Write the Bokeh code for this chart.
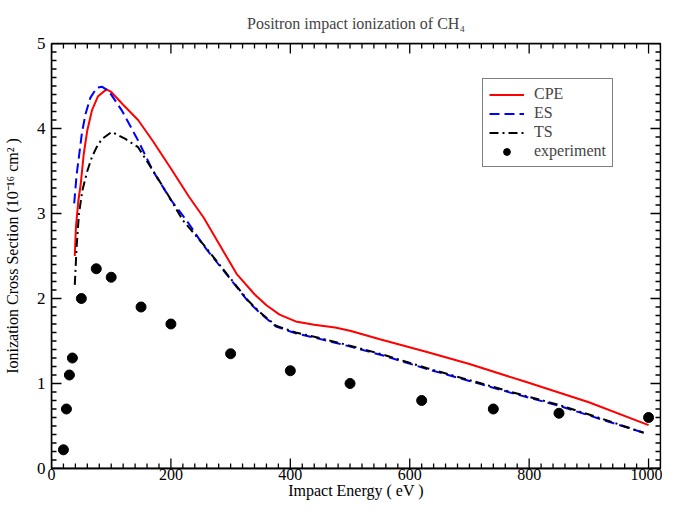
from bokeh.plotting import figure
from bokeh.models import Range1d, Legend, LegendItem, FixedTicker
from bokeh.embed import file_html
from bokeh.resources import INLINE

# ---- data ----
cpe_e = [39, 41, 45, 49, 54, 60, 68, 78, 92, 100, 120, 145, 170, 200, 230, 255, 280, 310,
         340, 360, 382, 409, 440, 475, 500, 550, 629, 700, 794, 900, 1000]
cpe_s = [2.50, 2.85, 3.15, 3.35, 3.70, 3.98, 4.22, 4.38, 4.46, 4.43, 4.28, 4.10, 3.85, 3.53,
         3.20, 2.95, 2.65, 2.29, 2.05, 1.92, 1.81, 1.73, 1.69, 1.66, 1.62, 1.52, 1.37, 1.23,
         1.02, 0.78, 0.51]

es_e = [38, 42, 46, 51, 57, 65, 76, 85, 96, 118, 145, 170, 200, 230, 255, 280, 305, 330,
        349, 376, 409, 440, 475, 508, 560, 629, 700, 770, 849, 920, 992]
es_s = [3.12, 3.45, 3.67, 3.95, 4.17, 4.36, 4.48, 4.49, 4.44, 4.21, 3.86, 3.50, 3.16, 2.88,
        2.62, 2.40, 2.18, 1.96, 1.83, 1.67, 1.59, 1.54, 1.48, 1.42, 1.32, 1.17, 1.03, 0.89,
        0.74, 0.58, 0.42]

ts_e = [39, 42, 46, 52, 60, 68, 77, 85, 101, 123, 145, 173, 195, 220, 255, 280, 305, 330,
        349, 376, 409, 440, 475, 508, 560, 629, 700, 770, 849, 920, 992]
ts_s = [2.16, 2.60, 3.00, 3.28, 3.50, 3.67, 3.80, 3.88, 3.96, 3.88, 3.78, 3.47, 3.22, 2.92,
        2.63, 2.41, 2.19, 1.97, 1.84, 1.68, 1.60, 1.55, 1.49, 1.43, 1.33, 1.18, 1.04, 0.90,
        0.75, 0.59, 0.42]

exp_e = [20, 25, 30, 35, 50, 75, 100, 150, 200, 300, 400, 500, 620, 740, 850, 1000]
exp_s = [0.22, 0.70, 1.10, 1.30, 2.00, 2.35, 2.25, 1.90, 1.70, 1.35, 1.15, 1.00, 0.80,
         0.70, 0.65, 0.60]

x_ticks = [0, 200, 400, 600, 800, 1000]
y_ticks = [0, 1, 2, 3, 4, 5]
x_minor = list(range(0, 1021, 20))
y_minor = [i / 10 for i in range(0, 51)]

X_MAX = 1020
Y_MAX = 5
SERIF = "Liberation Serif"

p = figure(width=662, height=501, output_backend="svg", toolbar_location=None,
           x_range=Range1d(0, X_MAX), y_range=Range1d(0, Y_MAX),
           title="Positron impact ionization of CH\u2084")
p.min_border_left = 44
p.min_border_right = 2
p.min_border_top = 36
p.min_border_bottom = 30
p.title.align = "center"
p.title.text_font = SERIF
p.title.text_font_size = "16px"
p.title.text_font_style = "normal"
p.title.standoff = 24
p.grid.visible = False
p.outline_line_color = "black"
p.outline_line_width = 1.3
p.background_fill_color = "white"
p.border_fill_color = "white"

for ax in (p.xaxis[0], p.yaxis[0]):
    ax.major_tick_in = 0
    ax.major_tick_out = 0
    ax.minor_tick_in = 0
    ax.minor_tick_out = 0
    ax.axis_line_color = "black"
    ax.axis_line_width = 1.3
    ax.major_label_text_font = SERIF
    ax.major_label_text_font_size = "17px"
    ax.major_label_text_color = "black"
    ax.axis_label_text_font = SERIF
    ax.axis_label_text_font_size = "16px"
    ax.axis_label_text_font_style = "normal"
    ax.axis_label_text_color = "black"

xax = p.xaxis[0]
yax = p.yaxis[0]
xax.ticker = FixedTicker(ticks=x_ticks)
yax.ticker = FixedTicker(ticks=y_ticks)
xax.major_label_text_font_size = "16px"
xax.major_label_standoff = 0
xax.axis_label = "Impact Energy ( eV )"
xax.axis_label_standoff = -1
yax.major_label_standoff = 6
yax.axis_label = "Ionization Cross Section (10\u207b\u00b9\u2076 cm\u00b2 )"
yax.axis_label_standoff = 13

# inward ticks on all four sides, each side drawn as one continuous path
PX_Y = Y_MAX / 428.0     # y data units per pixel (approx.)
PX_X = X_MAX / 609.0     # x data units per pixel (approx.)
MAJ, MIN = 10, 5         # tick lengths in px
xmaj = set(x_ticks)
ymaj = set(y_ticks)

def x_side(y_edge, sign):
    xs, ys = [], []
    for v in x_minor:
        L = (MAJ if v in xmaj else MIN) * PX_Y * sign
        xs += [v, v, v]
        ys += [y_edge, y_edge + L, y_edge]
    return xs, ys

def y_side(x_edge, sign):
    xs, ys = [], []
    for v in y_minor:
        L = (MAJ if round(v, 6) in ymaj else MIN) * PX_X * sign
        xs += [x_edge, x_edge + L, x_edge]
        ys += [v, v, v]
    return xs, ys

for xs, ys in (x_side(0, 1), x_side(Y_MAX, -1), y_side(0, 1), y_side(X_MAX, -1)):
    p.line(xs, ys, line_color="black", line_width=1.3, line_join="bevel")

r_cpe = p.line(cpe_e, cpe_s, line_color="#ff0000", line_width=2)
r_es = p.line(es_e, es_s, line_color="#0000ff", line_width=2, line_dash="10 5")
r_ts = p.line(ts_e, ts_s, line_color="black", line_width=2, line_dash="9 4 2 4")
r_exp = p.scatter(exp_e, exp_s, marker="circle", size=10, fill_color="black", line_color="black")

legend = Legend(items=[
    LegendItem(label="CPE", renderers=[r_cpe]),
    LegendItem(label="ES", renderers=[r_es]),
    LegendItem(label="TS", renderers=[r_ts]),
    LegendItem(label="experiment", renderers=[r_exp]),
], location=(431, 301))
legend.label_text_font = SERIF
legend.label_text_font_size = "16px"
legend.border_line_color = "black"
legend.border_line_width = 1
legend.background_fill_alpha = 1
legend.glyph_width = 35
legend.glyph_height = 17
legend.label_height = 17
legend.spacing = 1
legend.padding = 6
legend.label_standoff = 10
legend.margin = 0
p.add_layout(legend, "center")

open("out.html", "w").write(file_html(p, INLINE))
